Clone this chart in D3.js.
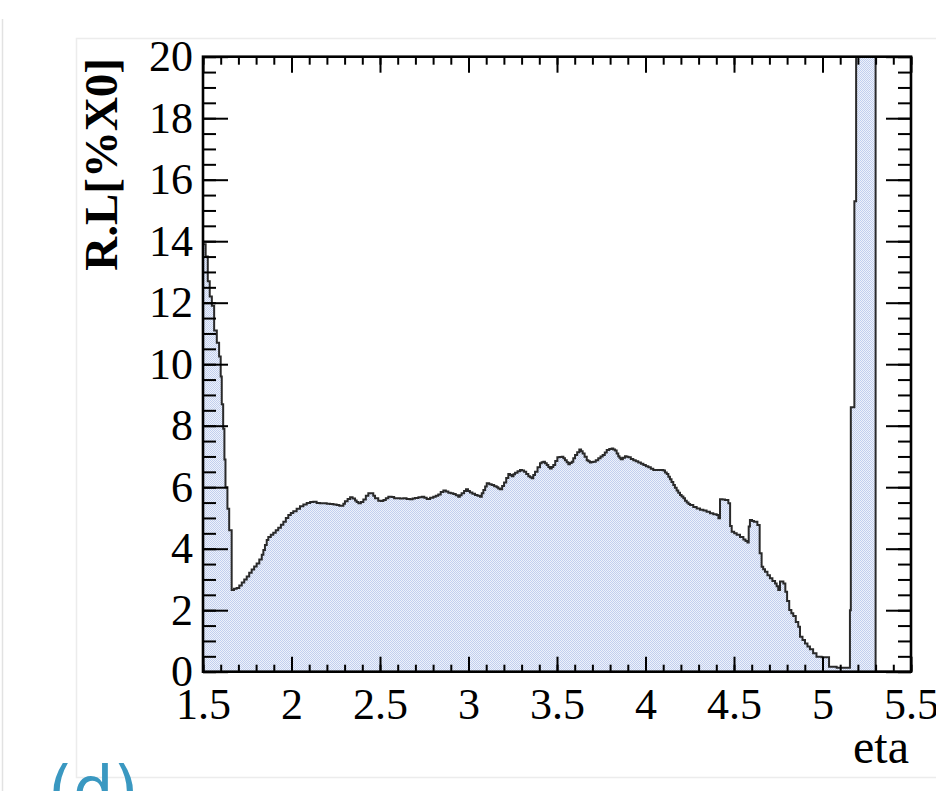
<!DOCTYPE html>
<html>
<head>
<meta charset="utf-8">
<script src="https://cdn.jsdelivr.net/npm/d3@7/dist/d3.min.js"></script>
<style>
  html, body { margin: 0; padding: 0; background: #fff; overflow: hidden; }
  svg { display: block; }
</style>
</head>
<body>
<svg id="chart" width="936" height="791"></svg>
<script>
// ---- data ----
const etaLeft = [
  1.500, 1.515, 1.527, 1.538, 1.550, 1.563, 1.578, 1.591, 1.600, 1.606, 1.614, 1.621, 1.627, 1.638, 1.648,
  1.662, 1.675, 1.690, 1.705, 1.719, 1.733, 1.747, 1.761, 1.775, 1.789, 1.803, 1.818, 1.832, 1.841, 1.850,
  1.860, 1.869, 1.883, 1.897, 1.911, 1.925, 1.940, 1.954, 1.968, 1.982, 1.996, 2.010, 2.029, 2.048, 2.067,
  2.086, 2.105, 2.123, 2.142, 2.161, 2.180, 2.199, 2.218, 2.237, 2.255, 2.270, 2.284, 2.293, 2.302, 2.317,
  2.331, 2.345, 2.359, 2.368, 2.378, 2.392, 2.406, 2.420, 2.434, 2.453, 2.462, 2.472, 2.490, 2.505, 2.519,
  2.533, 2.547, 2.566, 2.580, 2.594, 2.613, 2.632, 2.650, 2.669, 2.684, 2.698, 2.717, 2.736, 2.750, 2.764,
  2.783, 2.801, 2.815, 2.829, 2.843, 2.858, 2.872, 2.886, 2.900, 2.914, 2.928, 2.942, 2.951, 2.961, 2.975,
  2.986, 2.997, 3.008, 3.022, 3.037, 3.051, 3.065, 3.075, 3.084, 3.094, 3.103, 3.117, 3.131, 3.145, 3.159,
  3.168, 3.178, 3.190, 3.201, 3.213, 3.225, 3.235, 3.244, 3.254, 3.263, 3.277, 3.291, 3.302, 3.314, 3.326,
  3.338, 3.348, 3.357, 3.366, 3.376, 3.390, 3.404, 3.413, 3.423, 3.432, 3.442, 3.451, 3.460, 3.470, 3.479,
  3.490, 3.502, 3.514, 3.527, 3.536, 3.545, 3.555, 3.564, 3.573, 3.583, 3.592, 3.602, 3.614, 3.626, 3.636,
  3.645, 3.656, 3.668, 3.677, 3.686, 3.695, 3.705, 3.719, 3.733, 3.746, 3.758, 3.770, 3.781, 3.795, 3.809,
  3.818, 3.828, 3.837, 3.846, 3.853, 3.860, 3.872, 3.884, 3.893, 3.903, 3.917, 3.931, 3.945, 3.959, 3.974,
  3.988, 4.002, 4.016, 4.030, 4.044, 4.063, 4.082, 4.101, 4.110, 4.120, 4.129, 4.138, 4.147, 4.157, 4.166,
  4.176, 4.185, 4.195, 4.204, 4.214, 4.223, 4.233, 4.243, 4.252, 4.270, 4.289, 4.308, 4.327, 4.345, 4.364,
  4.383, 4.402, 4.412, 4.421, 4.435, 4.449, 4.468, 4.478, 4.487, 4.501, 4.515, 4.534, 4.553, 4.565, 4.576,
  4.583, 4.590, 4.602, 4.613, 4.632, 4.645, 4.656, 4.665, 4.675, 4.689, 4.703, 4.717, 4.732, 4.741, 4.750,
  4.760, 4.779, 4.790, 4.800, 4.812, 4.824, 4.835, 4.849, 4.863, 4.873, 4.887, 4.901, 4.915, 4.929, 4.947,
  4.966, 4.995, 5.024, 5.037, 5.080, 5.155, 5.160, 5.180, 5.190, 5.300, 5.500
];
const rlValues = [
  13.9, 13.5, 12.7, 12.2, 11.9, 11.1, 10.7, 10.25, 9.6, 8.7, 7.9, 6.9, 6.0, 5.3, 4.6,
  2.66, 2.70, 2.72, 2.80, 2.90, 3.00, 3.10, 3.22, 3.32, 3.42, 3.52, 3.65, 3.80, 3.96, 4.12,
  4.28, 4.38, 4.45, 4.52, 4.60, 4.68, 4.78, 4.88, 5.00, 5.10, 5.16, 5.22, 5.30, 5.38, 5.44,
  5.49, 5.52, 5.53, 5.49, 5.48, 5.48, 5.46, 5.45, 5.44, 5.42, 5.40, 5.40, 5.46, 5.54, 5.62,
  5.67, 5.63, 5.57, 5.52, 5.48, 5.52, 5.60, 5.72, 5.80, 5.80, 5.72, 5.64, 5.56, 5.55, 5.58,
  5.64, 5.69, 5.68, 5.64, 5.64, 5.63, 5.64, 5.62, 5.61, 5.63, 5.65, 5.67, 5.69, 5.66, 5.62,
  5.66, 5.69, 5.72, 5.76, 5.84, 5.89, 5.86, 5.82, 5.80, 5.78, 5.74, 5.69, 5.74, 5.80, 5.88,
  5.93, 5.88, 5.83, 5.79, 5.75, 5.72, 5.69, 5.80, 5.91, 6.02, 6.13, 6.10, 6.07, 6.03, 6.00,
  5.96, 5.93, 6.04, 6.15, 6.30, 6.43, 6.40, 6.36, 6.42, 6.47, 6.52, 6.56, 6.54, 6.50, 6.43,
  6.36, 6.32, 6.29, 6.40, 6.50, 6.65, 6.78, 6.81, 6.83, 6.78, 6.72, 6.66, 6.61, 6.66, 6.72,
  6.85, 6.97, 6.98, 6.99, 6.94, 6.88, 6.81, 6.75, 6.79, 6.83, 6.94, 7.05, 7.14, 7.23, 7.17,
  7.10, 6.99, 6.88, 6.84, 6.80, 6.82, 6.83, 6.88, 6.94, 7.00, 7.05, 7.13, 7.21, 7.24, 7.26,
  7.23, 7.19, 7.10, 7.01, 6.96, 6.91, 6.96, 7.01, 6.99, 6.97, 6.92, 6.88, 6.84, 6.80, 6.76,
  6.72, 6.68, 6.65, 6.60, 6.56, 6.56, 6.56, 6.54, 6.48, 6.43, 6.34, 6.26, 6.17, 6.07, 5.98,
  5.89, 5.82, 5.75, 5.70, 5.64, 5.56, 5.50, 5.45, 5.42, 5.36, 5.31, 5.27, 5.24, 5.20, 5.15,
  5.12, 5.10, 4.99, 5.61, 5.60, 5.58, 5.48, 4.74, 4.55, 4.50, 4.45, 4.38, 4.30, 4.25, 4.20,
  4.72, 4.93, 4.90, 4.88, 4.77, 3.85, 3.41, 3.33, 3.25, 3.14, 3.04, 2.95, 2.87, 2.78, 2.66,
  2.93, 2.87, 2.60, 2.30, 2.01, 1.90, 1.81, 1.62, 1.46, 1.14, 1.03, 0.92, 0.82, 0.73, 0.60,
  0.49, 0.47, 0.47, 0.16, 0.13, 2.0, 8.6, 15.3, 30, 0, 0
];
const xMajorTicks = [1.5, 2, 2.5, 3, 3.5, 4, 4.5, 5, 5.5];
const xTickLabels = ["1.5", "2", "2.5", "3", "3.5", "4", "4.5", "5", "5.5"];
const yMajorTicks = [0, 2, 4, 6, 8, 10, 12, 14, 16, 18, 20];
const yTickLabels = ["0", "2", "4", "6", "8", "10", "12", "14", "16", "18", "20"];
const xTitle = "eta";
const yTitle = "R.L[%X0]";
const panelTag = "(d)";

// ---- layout ----
const svg = d3.select("#chart");
const L = 203, R = 911, T = 56.7, B = 671.7;
const x = d3.scaleLinear().domain([1.5, 5.5]).range([L, R]);
const y = d3.scaleLinear().domain([0, 20]).range([B, T]);
const serif = "'Liberation Serif', 'Times New Roman', serif";

// faint page/panel frame lines
svg.append("line").attr("x1", 2.5).attr("x2", 2.5).attr("y1", 19).attr("y2", 791)
  .attr("stroke", "#e2e2e2").attr("stroke-width", 1.5);
svg.append("path").attr("d", "M936,38.5 H76.5 V777.5 H936")
  .attr("fill", "none").attr("stroke", "#ececec").attr("stroke-width", 1.5);

// fill pattern (dotted ROOT style)
const defs = svg.append("defs");
const pat = defs.append("pattern").attr("id", "dots")
  .attr("patternUnits", "userSpaceOnUse").attr("width", 2).attr("height", 2);
pat.append("rect").attr("width", 2).attr("height", 2).attr("fill", "#eef2fb");
pat.append("rect").attr("x", 0).attr("y", 0).attr("width", 1).attr("height", 1).attr("fill", "#c2cfee");
pat.append("rect").attr("x", 1).attr("y", 1).attr("width", 1).attr("height", 1).attr("fill", "#c2cfee");
defs.append("clipPath").attr("id", "plotclip")
  .append("rect").attr("x", L).attr("y", T).attr("width", R - L).attr("height", B - T);

// histogram
const pts = etaLeft.map((e, i) => ({ e: e, v: rlValues[i] }));
const area = d3.area().x(d => x(d.e)).y0(y(0)).y1(d => y(d.v)).curve(d3.curveStepAfter);
const line = d3.line().x(d => x(d.e)).y(d => y(d.v)).curve(d3.curveStepAfter);
const hg = svg.append("g").attr("clip-path", "url(#plotclip)");
hg.append("path").datum(pts).attr("d", area).attr("fill", "url(#dots)");
hg.append("path").datum([{ e: 1.5, v: 0 }].concat(pts)).attr("d", line)
  .attr("fill", "none").attr("stroke", "#2a2a2a").attr("stroke-width", 2);

// axes
function minorRange(a, b, s) { const r = []; for (let k = 0; a + k * s <= b + 1e-9; k++) r.push(+(a + k * s).toFixed(3)); return r; }
const xMinor = minorRange(1.5, 5.5, 0.1);
const yMinor = minorRange(0, 20, 0.5);

function styleAxis(g) {
  g.select(".domain").remove();
  g.selectAll(".tick line").attr("stroke", "#000").attr("stroke-width", 2);
  g.selectAll("text").attr("font-family", serif).attr("font-size", 44).attr("fill", "#000");
}
// bottom
svg.append("g").attr("transform", `translate(0,${B})`)
  .call(d3.axisBottom(x).tickValues(xMinor).tickSize(-7).tickFormat(""))
  .call(styleAxis);
svg.append("g").attr("transform", `translate(0,${B})`)
  .call(d3.axisBottom(x).tickValues(xMajorTicks).tickSize(-15).tickPadding(16)
    .tickFormat((d, i) => xTickLabels[i]))
  .call(styleAxis);
// top
svg.append("g").attr("transform", `translate(0,${T})`)
  .call(d3.axisTop(x).tickValues(xMinor).tickSize(-8).tickFormat(""))
  .call(styleAxis);
svg.append("g").attr("transform", `translate(0,${T})`)
  .call(d3.axisTop(x).tickValues(xMajorTicks).tickSize(-16).tickFormat(""))
  .call(styleAxis);
// left
svg.append("g").attr("transform", `translate(${L},0)`)
  .call(d3.axisLeft(y).tickValues(yMinor).tickSize(-13).tickFormat(""))
  .call(styleAxis);
svg.append("g").attr("transform", `translate(${L},0)`)
  .call(d3.axisLeft(y).tickValues(yMajorTicks).tickSize(-25).tickPadding(10)
    .tickFormat((d, i) => yTickLabels[i]))
  .call(styleAxis);
// right
svg.append("g").attr("transform", `translate(${R},0)`)
  .call(d3.axisRight(y).tickValues(yMinor).tickSize(-13).tickFormat(""))
  .call(styleAxis);
svg.append("g").attr("transform", `translate(${R},0)`)
  .call(d3.axisRight(y).tickValues(yMajorTicks).tickSize(-25).tickFormat(""))
  .call(styleAxis);

// frame
svg.append("rect").attr("x", L).attr("y", T).attr("width", R - L).attr("height", B - T)
  .attr("fill", "none").attr("stroke", "#000").attr("stroke-width", 2.6);

// titles
svg.append("text").attr("x", 909).attr("y", 763).attr("text-anchor", "end")
  .attr("font-family", serif).attr("font-size", 48).attr("fill", "#000").text(xTitle);
svg.append("text").attr("transform", "translate(117,58) rotate(-90)").attr("text-anchor", "end")
  .attr("font-family", serif).attr("font-size", 47).attr("font-weight", "bold").attr("fill", "#000").text(yTitle);

// panel tag
svg.append("text").attr("x", 48).attr("y", 812)
  .attr("font-family", "'DejaVu Sans', sans-serif").attr("font-size", 64)
  .attr("fill", "#3a98c1").text(panelTag);
</script>
</body>
</html>
